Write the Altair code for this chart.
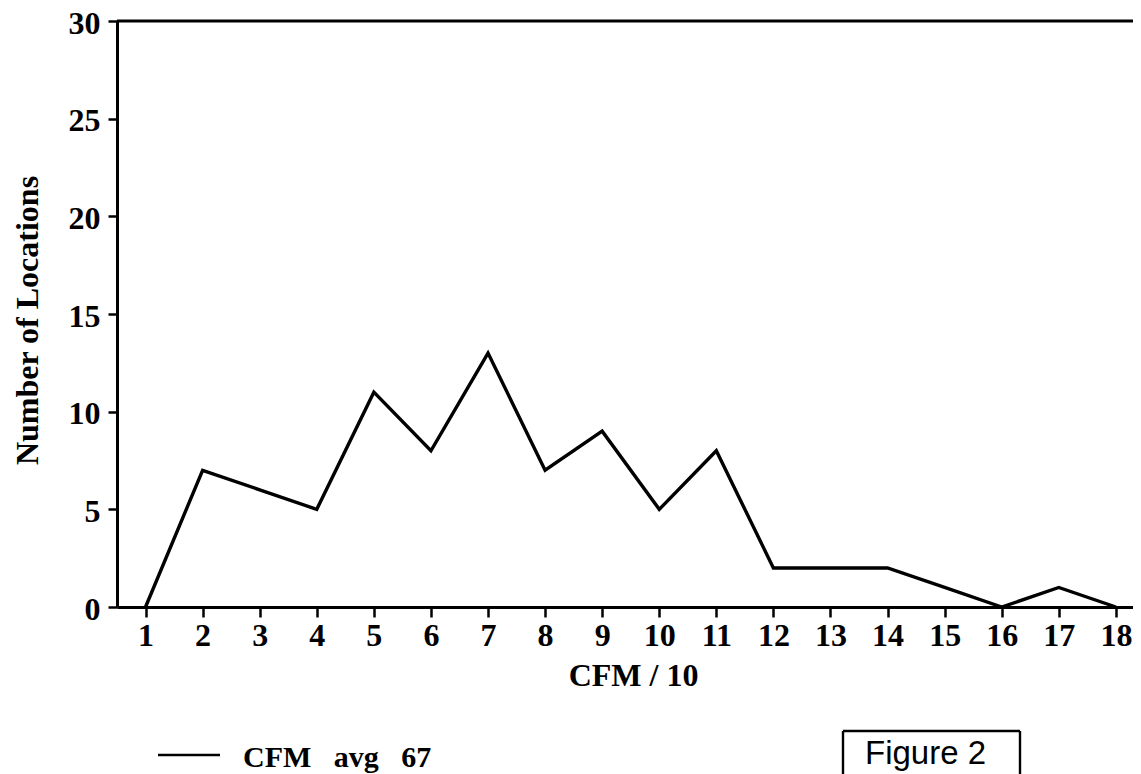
import altair as alt
import pandas as pd

# ---- data ----
cfm_bins = [1, 2, 3, 4, 5, 6, 7, 8, 9, 10, 11, 12, 13, 14, 15, 16, 17, 18]
locations = [0, 7, 6, 5, 11, 8, 13, 7, 9, 5, 8, 2, 2, 2, 1, 0, 1, 0]
y_ticks = [0, 5, 10, 15, 20, 25, 30]
legend_label = "CFM\u00a0\u00a0 avg\u00a0\u00a0 67"
figure_label = "Figure 2"
x_title = "CFM / 10"
y_title = "Number of Locations"

SERIF = "Liberation Serif"
SANS = "Liberation Sans"
W, H = 1016, 586

df = pd.DataFrame({"cfm": cfm_bins, "n": locations})

x_scale = alt.Scale(domain=[0.5, 18.3], nice=False, zero=False)
y_scale = alt.Scale(domain=[0, 30], nice=False, zero=False)

line = alt.Chart(df).mark_line(color="black", strokeWidth=3.4, strokeJoin="miter").encode(
    x=alt.X("cfm:Q", scale=x_scale,
            axis=alt.Axis(values=cfm_bins, format="d", tickSize=10, labelPadding=28,
                          labelBaseline="alphabetic",
                          labelFontSize=32, labelFont=SERIF, labelFontWeight="bold",
                          title=x_title,
                          titleFont=SERIF, titleFontSize=32, titleFontWeight="bold",
                          titleX=516, titleY=78, titleBaseline="alphabetic",
                          titleAlign="center")),
    y=alt.Y("n:Q", scale=y_scale,
            axis=alt.Axis(values=y_ticks, tickSize=9, labelPadding=8,
                          labelBaseline="alphabetic", labelOffset=12,
                          labelFontSize=32, labelFont=SERIF, labelFontWeight="bold",
                          title=y_title,
                          titleFont=SERIF, titleFontSize=32, titleFontWeight="bold",
                          titleX=-80, titleY=299, titleBaseline="alphabetic",
                          titleAlign="center", titleAngle=270)),
)

top_df = pd.DataFrame({"n": [y_ticks[-1]]})
top_rule = alt.Chart(top_df).mark_rule(color="black", strokeWidth=3).encode(
    y=alt.Y("n:Q", scale=y_scale), x=alt.value(0), x2=alt.value(W)
)

legend_line = alt.Chart(top_df).mark_rule(color="black", strokeWidth=2.6).encode(
    x=alt.value(41), x2=alt.value(103), y=alt.value(734)
)
legend_text = alt.Chart(pd.DataFrame({"t": [legend_label]})).mark_text(
    font=SERIF, fontSize=30, fontWeight="bold", align="left", baseline="alphabetic",
    color="black"
).encode(text="t:N", x=alt.value(126), y=alt.value(746))

box_top = alt.Chart(top_df).mark_rule(color="black", strokeWidth=2.4).encode(
    x=alt.value(726), x2=alt.value(903), y=alt.value(710)
)
box_left = alt.Chart(top_df).mark_rule(color="black", strokeWidth=2.4).encode(
    x=alt.value(726), y=alt.value(710), y2=alt.value(760)
)
box_right = alt.Chart(top_df).mark_rule(color="black", strokeWidth=2.4).encode(
    x=alt.value(903), y=alt.value(710), y2=alt.value(760)
)
fig_text = alt.Chart(pd.DataFrame({"t": [figure_label]})).mark_text(
    font=SANS, fontSize=33, align="left", baseline="alphabetic", color="black"
).encode(text="t:N", x=alt.value(748), y=alt.value(743))

chart = alt.layer(
    line, top_rule, legend_line, legend_text, box_top, box_left, box_right, fig_text
).properties(
    width=W, height=H,
    autosize=alt.AutoSizeParams(type="none"),
    padding={"left": 109, "top": 13, "right": 0, "bottom": 167},
    background="white",
).configure_view(stroke=None).configure_axis(
    grid=False, domainColor="black", domainWidth=3, tickColor="black",
    tickWidth=2.5, labelColor="black", titleColor="black",
)

chart.save("out.html", embed_options={"renderer": "svg", "actions": False})
